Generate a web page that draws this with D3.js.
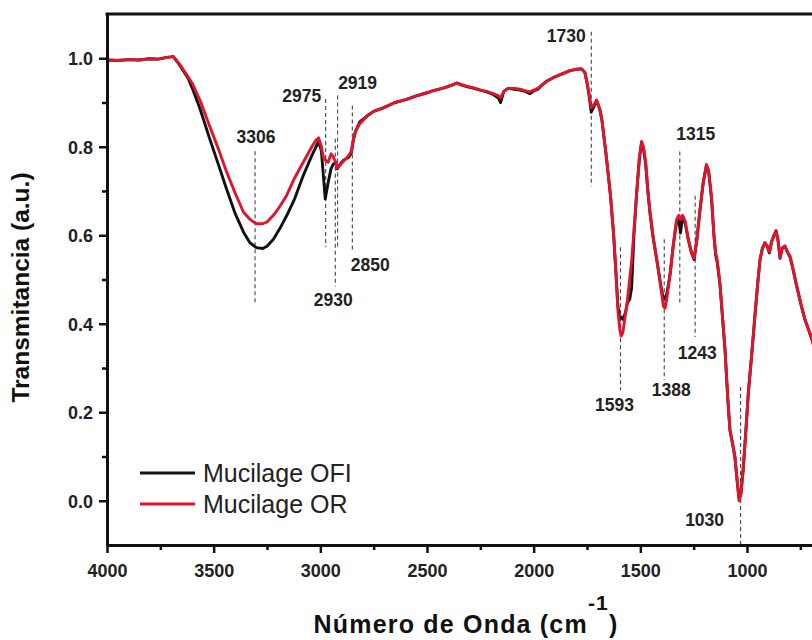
<!DOCTYPE html>
<html>
<head>
<meta charset="utf-8">
<script src="https://cdn.jsdelivr.net/npm/d3@7"></script>
<style>
  body { margin: 0; background: #fff; }
  svg { display: block; }
  text { font-family: "Liberation Sans", Arial, sans-serif; }
</style>
</head>
<body>
<svg id="chart" width="812" height="640"></svg>
<script>
// FTIR spectra of the two mucilage samples (wavenumber in cm^-1, transmittance in a.u.)
const wavenumbers = [
  4000, 3950, 3900, 3850, 3800, 3760, 3730, 3700, 3690, 3660, 3620, 3600, 3564, 3520, 3480,
  3440, 3400, 3360, 3330, 3300, 3270, 3250, 3220, 3190, 3158, 3120, 3080, 3040, 3020, 3008,
  2995, 2985, 2977, 2963, 2950, 2940, 2928, 2920, 2905, 2890, 2870, 2855, 2845, 2835, 2815,
  2780, 2750, 2705, 2650, 2595, 2550, 2500, 2470, 2420, 2380, 2360, 2340, 2314, 2280, 2250,
  2220, 2190, 2165, 2155, 2140, 2120, 2090, 2064, 2040, 2017, 2000, 1980, 1960, 1939, 1900,
  1861, 1830, 1800, 1775, 1760, 1750, 1740, 1730, 1718, 1705, 1690, 1680, 1660, 1640, 1625,
  1615, 1605, 1597, 1590, 1582, 1570, 1560, 1550, 1541, 1530, 1517, 1505, 1494, 1485, 1475,
  1465, 1455, 1440, 1423, 1405, 1392, 1384, 1375, 1361, 1345, 1330, 1320, 1312, 1302, 1290,
  1275, 1260, 1248, 1235, 1220, 1205, 1190, 1180, 1166, 1155, 1147, 1140, 1127, 1103, 1090,
  1080, 1068, 1057, 1045, 1037, 1028, 1017, 1005, 994, 978, 963, 950, 939, 928, 916,
  905, 895, 885, 874, 864, 855, 845, 835, 822, 810, 798, 785, 767, 745, 728,
  710, 695, 670
];

const ofiValues = [
  0.996, 0.995, 0.997, 0.996, 0.999, 0.998, 1.001, 1.003, 1.004, 0.985, 0.955, 0.932, 0.886, 0.820, 0.763,
  0.705, 0.650, 0.607, 0.583, 0.572, 0.570, 0.575, 0.591, 0.615, 0.644, 0.683, 0.735, 0.780, 0.800, 0.812,
  0.790, 0.730, 0.682, 0.720, 0.750, 0.760, 0.765, 0.750, 0.762, 0.770, 0.775, 0.785, 0.815, 0.835, 0.856,
  0.870, 0.880, 0.888, 0.900, 0.907, 0.915, 0.922, 0.927, 0.933, 0.940, 0.944, 0.940, 0.936, 0.932, 0.928,
  0.924, 0.918, 0.910, 0.900, 0.925, 0.932, 0.930, 0.928, 0.925, 0.920, 0.926, 0.930, 0.940, 0.948, 0.958,
  0.966, 0.972, 0.975, 0.976, 0.968, 0.945, 0.915, 0.878, 0.890, 0.905, 0.885, 0.860, 0.780, 0.690, 0.600,
  0.520, 0.440, 0.412, 0.415, 0.410, 0.425, 0.448, 0.455, 0.480, 0.600, 0.697, 0.770, 0.810, 0.795, 0.760,
  0.700, 0.652, 0.595, 0.545, 0.490, 0.455, 0.455, 0.470, 0.510, 0.580, 0.630, 0.640, 0.605, 0.640, 0.628,
  0.590, 0.560, 0.545, 0.590, 0.659, 0.720, 0.758, 0.745, 0.682, 0.600, 0.555, 0.540, 0.490, 0.341, 0.230,
  0.160, 0.130, 0.100, 0.040, 0.004, 0.020, 0.076, 0.160, 0.242, 0.330, 0.417, 0.490, 0.545, 0.570, 0.583,
  0.575, 0.560, 0.585, 0.598, 0.610, 0.590, 0.548, 0.570, 0.575, 0.562, 0.550, 0.525, 0.485, 0.440, 0.409,
  0.385, 0.364, 0.320
];

const orValues = [
  0.996, 0.995, 0.997, 0.996, 0.999, 0.998, 1.001, 1.003, 1.004, 0.987, 0.958, 0.943, 0.905, 0.848, 0.798,
  0.744, 0.696, 0.652, 0.636, 0.626, 0.626, 0.630, 0.645, 0.665, 0.690, 0.730, 0.765, 0.800, 0.815, 0.820,
  0.800, 0.775, 0.770, 0.765, 0.784, 0.778, 0.765, 0.752, 0.760, 0.768, 0.778, 0.790, 0.818, 0.835, 0.852,
  0.870, 0.880, 0.888, 0.900, 0.907, 0.915, 0.922, 0.927, 0.933, 0.940, 0.944, 0.941, 0.937, 0.933, 0.928,
  0.925, 0.920, 0.915, 0.910, 0.925, 0.932, 0.932, 0.930, 0.927, 0.924, 0.928, 0.932, 0.940, 0.948, 0.958,
  0.966, 0.972, 0.975, 0.976, 0.968, 0.945, 0.920, 0.888, 0.895, 0.905, 0.885, 0.860, 0.780, 0.690, 0.600,
  0.520, 0.430, 0.390, 0.372, 0.380, 0.420, 0.455, 0.500, 0.540, 0.610, 0.697, 0.775, 0.812, 0.800, 0.765,
  0.705, 0.652, 0.595, 0.545, 0.485, 0.440, 0.435, 0.460, 0.510, 0.580, 0.636, 0.645, 0.635, 0.645, 0.632,
  0.590, 0.560, 0.548, 0.590, 0.659, 0.720, 0.760, 0.745, 0.682, 0.600, 0.560, 0.545, 0.492, 0.341, 0.230,
  0.160, 0.130, 0.100, 0.040, 0.000, 0.015, 0.076, 0.160, 0.242, 0.330, 0.417, 0.490, 0.545, 0.570, 0.583,
  0.575, 0.562, 0.585, 0.600, 0.610, 0.590, 0.550, 0.572, 0.576, 0.562, 0.553, 0.525, 0.485, 0.440, 0.409,
  0.385, 0.364, 0.320
];

const seriesNames = ["Mucilage OFI", "Mucilage OR"];
const seriesColors = ["#111111", "#e0142c"];

// Band positions marked on the spectrum
const bandPeaks = [3306, 2975, 2930, 2919, 2850, 1730, 1593, 1388, 1315, 1243, 1030];

const xTickValues = [4000, 3500, 3000, 2500, 2000, 1500, 1000];
const xMinorTickValues = [3750, 3250, 2750, 2250, 1750, 1250, 750];
const yTickValues = [0.0, 0.2, 0.4, 0.6, 0.8, 1.0];
const yMinorTickValues = [0.1, 0.3, 0.5, 0.7, 0.9];

// ---- layout ----
const svg = d3.select("#chart");
const frame = { left: 107, right: 875, top: 14, bottom: 545 };

const x = d3.scaleLinear().domain([4000, 400]).range([frame.left, frame.right]);
const y = d3.scaleLinear().domain([-0.1, 1.1]).range([frame.bottom, frame.top]);

svg.append("defs").append("clipPath").attr("id", "plot-clip")
  .append("rect").attr("x", frame.left).attr("y", frame.top)
  .attr("width", frame.right - frame.left).attr("height", frame.bottom - frame.top);

// Placement of each band marker: dashed line span and label position (in data units)
const bandLayout = {
  3306: { from: 0.790, to: 0.443, labelY: 0.808, dx: 1 },
  2975: { from: 0.908, to: 0.573, labelY: 0.902, dx: -24 },
  2930: { from: 0.818, to: 0.484, labelY: 0.441, dx: -2 },
  2919: { from: 0.916, to: 0.568, labelY: 0.930, dx: 20 },
  2850: { from: 0.893, to: 0.568, labelY: 0.520, dx: 18 },
  1730: { from: 1.060, to: 0.711, labelY: 1.036, dx: -25 },
  1593: { from: 0.573, to: 0.250, labelY: 0.202, dx: -6 },
  1388: { from: 0.591, to: 0.273, labelY: 0.236, dx: 7 },
  1315: { from: 0.789, to: 0.448, labelY: 0.816, dx: 16 },
  1243: { from: 0.689, to: 0.370, labelY: 0.320, dx: 2 },
  1030: { from: 0.257, to: -0.098, labelY: -0.057, dx: -36 }
};

// Band marker lines (behind the spectra)
const bands = svg.append("g").attr("class", "bands");
bandPeaks.forEach(p => {
  const l = bandLayout[p];
  bands.append("line")
    .attr("x1", x(p)).attr("x2", x(p))
    .attr("y1", y(l.from)).attr("y2", y(l.to))
    .attr("stroke", "#444").attr("stroke-width", 1.1)
    .attr("stroke-dasharray", "4,3");
});

// Spectra
const series = [ofiValues, orValues];
const line = d3.line()
  .x(d => x(d[0]))
  .y(d => y(d[1]))
  .curve(d3.curveLinear);

const plot = svg.append("g").attr("clip-path", "url(#plot-clip)");
series.forEach((vals, i) => {
  plot.append("path")
    .datum(wavenumbers.map((w, j) => [w, vals[j]]))
    .attr("fill", "none")
    .attr("stroke", seriesColors[i])
    .attr("stroke-width", 2.9)
    .attr("stroke-linejoin", "round")
    .attr("d", line);
});

// Band labels
const labels = svg.append("g").attr("class", "band-labels");
bandPeaks.forEach(p => {
  const l = bandLayout[p];
  labels.append("text")
    .attr("x", x(p) + l.dx).attr("y", y(l.labelY))
    .attr("text-anchor", "middle")
    .attr("font-size", 17.5).attr("font-weight", "bold").attr("fill", "#222")
    .text(p);
});

// Axes
const axisColor = "#111";
const xAxis = svg.append("g").attr("transform", `translate(0,${frame.bottom})`)
  .call(d3.axisBottom(x).tickValues(xTickValues).tickSize(8).tickSizeOuter(0).tickPadding(6)
    .tickFormat(d3.format("d")));
const xMinor = svg.append("g").attr("transform", `translate(0,${frame.bottom})`)
  .call(d3.axisBottom(x).tickValues(xMinorTickValues).tickSize(5).tickSizeOuter(0).tickFormat(""));
const yAxis = svg.append("g").attr("transform", `translate(${frame.left},0)`)
  .call(d3.axisLeft(y).tickValues(yTickValues).tickSize(8).tickSizeOuter(0).tickPadding(6)
    .tickFormat(d3.format(".1f")));
const yMinor = svg.append("g").attr("transform", `translate(${frame.left},0)`)
  .call(d3.axisLeft(y).tickValues(yMinorTickValues).tickSize(5).tickSizeOuter(0).tickFormat(""));

[xAxis, xMinor, yAxis, yMinor].forEach(g => {
  g.select(".domain").attr("stroke", axisColor).attr("stroke-width", 3);
  g.selectAll(".tick line").attr("stroke", axisColor).attr("stroke-width", 2.5);
  g.selectAll(".tick text")
    .attr("font-family", "Liberation Sans, Arial, sans-serif")
    .attr("font-size", 18).attr("font-weight", "bold").attr("fill", "#222");
});
xAxis.selectAll(".tick text").attr("dy", "1.0em");
yAxis.selectAll(".tick text").attr("dy", "0.36em");

// Frame: top and right edges
svg.append("line").attr("x1", frame.left - 1.5).attr("x2", frame.right)
  .attr("y1", frame.top).attr("y2", frame.top)
  .attr("stroke", axisColor).attr("stroke-width", 3);
svg.append("line").attr("x1", frame.right).attr("x2", frame.right)
  .attr("y1", frame.top).attr("y2", frame.bottom)
  .attr("stroke", axisColor).attr("stroke-width", 3);

// Axis titles
svg.append("text")
  .attr("transform", `translate(29,${(frame.top + frame.bottom) / 2 + 8}) rotate(-90)`)
  .attr("text-anchor", "middle")
  .attr("font-size", 24.5).attr("font-weight", "bold").attr("fill", "#111")
  .text("Transmitancia (a.u.)");

const xTitle = svg.append("text")
  .attr("x", 466).attr("y", 633)
  .attr("text-anchor", "middle")
  .attr("font-size", 25).attr("font-weight", "bold").attr("fill", "#111")
  .attr("letter-spacing", 1.2);
xTitle.append("tspan").text("Número de Onda (cm");
xTitle.append("tspan").attr("dy", -23).attr("font-size", 21).text("-1");
xTitle.append("tspan").attr("dy", 23).text(")");

// Legend
const legend = svg.append("g").attr("transform", "translate(140,473)");
seriesNames.forEach((name, i) => {
  const g = legend.append("g").attr("transform", `translate(0,${i * 31})`);
  g.append("line").attr("x1", 0).attr("x2", 55).attr("y1", 0).attr("y2", 0)
    .attr("stroke", seriesColors[i]).attr("stroke-width", 2.8);
  g.append("text").attr("x", 63).attr("y", 9)
    .attr("font-size", 25).attr("fill", "#222")
    .text(name);
});
</script>
</body>
</html>
